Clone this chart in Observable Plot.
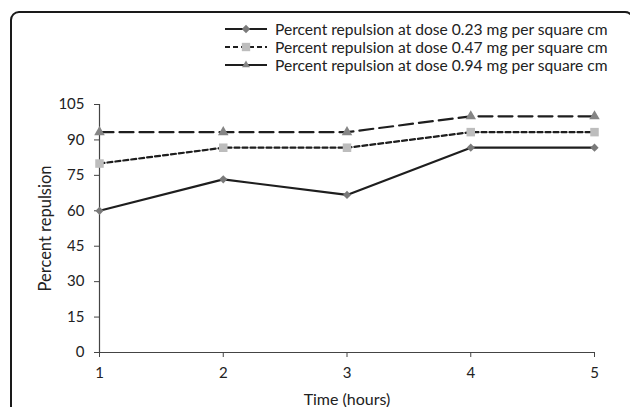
<!DOCTYPE html>
<html>
<head>
<meta charset="utf-8">
<script src="https://cdn.jsdelivr.net/npm/d3@7"></script>
<script src="https://cdn.jsdelivr.net/npm/@observablehq/plot@0.6"></script>
<style>
  html, body { margin: 0; padding: 0; background: #fff; }
  #wrap { position: relative; width: 630px; height: 407px; overflow: hidden; font-family: Lato, "Open Sans", sans-serif; }
  #frame { position: absolute; left: 10px; top: 11px; width: 624px; height: 430px; border: 2px solid #1a1a1a; border-radius: 9px; box-sizing: border-box; pointer-events: none; }
  #chart { position: absolute; left: 0; top: 0; }
  #legend { position: absolute; left: 224px; top: 20px; font-size: 15.6px; color: #222; }
  .row { display: flex; align-items: center; height: 18px; }
  .row svg { margin-right: 7px; }
</style>
</head>
<body>
<div id="wrap">
  <div id="chart"></div>
  <div id="frame"></div>
  <div id="legend"></div>
</div>
<script>
const hours = [1, 2, 3, 4, 5];
const seriesNames = [
  "Percent repulsion at dose 0.23 mg per square cm",
  "Percent repulsion at dose 0.47 mg per square cm",
  "Percent repulsion at dose 0.94 mg per square cm"
];
const dose023 = [60, 73.3, 66.7, 86.7, 86.7];
const dose047 = [80, 86.7, 86.7, 93.3, 93.3];
const dose094 = [93.3, 93.3, 93.3, 100, 100];
const yTicks = [0, 15, 30, 45, 60, 75, 90, 105];
const xTicks = [1, 2, 3, 4, 5];

const styles = [
  {dash: null, symbol: "diamond2", fill: "#7a7a7a", r: 3.7},
  {dash: "5,3", symbol: "square", fill: "#bdbdbd", r: 4.8},
  {dash: "14,6", symbol: "triangle", fill: "#858585", r: 3.9}
];
const values = [dose023, dose047, dose094];
const data = values.flatMap((vals, i) => vals.map((v, j) => ({series: i, x: hours[j], y: v})));

const marks = [];
values.forEach((vals, i) => {
  const d = data.filter(p => p.series === i);
  marks.push(Plot.line(d, {x: "x", y: "y", stroke: "#1e1e1e", strokeWidth: 2.2, strokeDasharray: styles[i].dash}));
});
values.forEach((vals, i) => {
  const d = data.filter(p => p.series === i);
  marks.push(Plot.dot(d, {x: "x", y: "y", symbol: () => styles[i].symbol, fill: styles[i].fill, stroke: "none", r: styles[i].r}));
});

const chart = Plot.plot({
  width: 630,
  height: 407,
  marginLeft: 99,
  marginRight: 36,
  marginTop: 104,
  marginBottom: 55,
  style: {fontFamily: "Lato, 'Open Sans', sans-serif", fontSize: "14px", color: "#222", background: "transparent"},
  x: {domain: [1, 5]},
  y: {domain: [0, 105]},
  symbol: {type: "identity"},
  marks: [
    Plot.axisY({ticks: yTicks, tickSize: 5, tickPadding: 10, fontSize: 15, label: null, stroke: "#444"}),
    Plot.axisY({ticks: [], label: "Percent repulsion", labelAnchor: "center", labelArrow: "none", labelOffset: 60, fontSize: 16.5}),
    Plot.axisX({ticks: xTicks, tickSize: 5, tickPadding: 10, tickFormat: "d", fontSize: 15, label: null, stroke: "#444"}),
    Plot.axisX({ticks: [], label: "Time (hours)", labelAnchor: "center", labelArrow: "none", labelOffset: 52, fontSize: 16}),
    Plot.ruleX([1], {stroke: "#444", strokeWidth: 1.2}),
    Plot.ruleY([0], {stroke: "#444", strokeWidth: 1.2}),
    ...marks
  ]
});
document.getElementById("chart").appendChild(chart);

// legend
const legend = document.getElementById("legend");
const symPaths = {
  diamond2: d3.symbol(d3.symbolDiamond2, 45)(),
  square: d3.symbol(d3.symbolSquare, 70)(),
  triangle: d3.symbol(d3.symbolTriangle2, 45)()
};
seriesNames.forEach((name, i) => {
  const row = document.createElement("div");
  row.className = "row";
  const s = d3.create("svg").attr("width", 44).attr("height", 18);
  s.append("line").attr("x1", 1).attr("x2", 43).attr("y1", 9).attr("y2", 9)
    .attr("stroke", "#1e1e1e").attr("stroke-width", 2.2)
    .attr("stroke-dasharray", i === 1 ? "5,3" : null);
  s.append("path").attr("d", symPaths[styles[i].symbol]).attr("transform", "translate(22,9)").attr("fill", styles[i].fill);
  row.appendChild(s.node());
  const t = document.createElement("span");
  t.textContent = name;
  row.appendChild(t);
  legend.appendChild(row);
});
</script>
</body>
</html>
